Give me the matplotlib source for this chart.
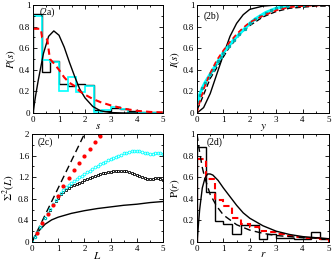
import numpy as np
import matplotlib
matplotlib.use('Agg')
import matplotlib.pyplot as plt
from matplotlib.ticker import MultipleLocator, FormatStrFormatter

plt.rcParams['font.family'] = ['Liberation Serif', 'DejaVu Serif']
plt.rcParams['mathtext.fontset'] = 'stix'

#Bin edges of the histograms (width 1/3)
bin_edges = np.linspace(0, 5, 16)

#Panel (2a) spacing distribution
hist_a_black = [0.92, 0.38, 0.48, 0.27, 0.25, 0.27, 0.26, 0.03, 0.02, 0.05, 0.04, 0.02, 0.01, 0.01, 0.01]
hist_a_cyan = [0.90, 0.49, 0.47, 0.20, 0.33, 0.19, 0.25, 0.01, 0.03, 0.06, 0.04, 0.0, 0.0, 0.0, 0.0]
wig_s = [0, 0.1, 0.2, 0.4, 0.6, 0.8, 1.0, 1.2, 1.4, 1.6, 1.8, 2.0, 2.3, 2.6, 3.0, 3.5, 4.0]
wig_p = [0, 0.16, 0.30, 0.55, 0.71, 0.76, 0.72, 0.61, 0.47, 0.34, 0.22, 0.14, 0.06, 0.02, 0.004, 0.0, 0.0]
red_a_s = [0, 0.3, 0.35, 0.55, 0.65, 0.8, 1.0, 1.2, 1.4, 1.6, 1.8, 2.0, 2.3, 2.6, 3.0, 3.5, 4.0, 4.5, 5.0]
red_a_p = [0.78, 0.78, 0.70, 0.68, 0.50, 0.46, 0.40, 0.33, 0.28, 0.25, 0.20, 0.17, 0.13, 0.10, 0.07, 0.04, 0.02, 0.01, 0.005]

#Panel (2b) cumulative distribution
cum_wig_s = [0, 0.25, 0.5, 0.75, 1.0, 1.25, 1.5, 1.75, 2.0, 2.5, 3.0, 5.0]
cum_wig_i = [0, 0.05, 0.18, 0.36, 0.54, 0.71, 0.83, 0.91, 0.96, 0.99, 1.0, 1.0]
cyan_b_s = [0.05, 0.1, 0.2, 0.3, 0.4, 0.5, 0.6, 0.7, 0.8, 0.9, 1.0, 1.2, 1.4, 1.6, 1.8, 2.0, 2.2, 2.4, 2.6, 2.8, 3.0, 3.2, 3.4, 3.6, 3.8, 4.0]
cyan_b_i = [0.10, 0.17, 0.23, 0.28, 0.32, 0.36, 0.40, 0.44, 0.48, 0.52, 0.56, 0.62, 0.68, 0.73, 0.78, 0.83, 0.87, 0.90, 0.93, 0.95, 0.97, 0.98, 0.99, 1.0, 1.0, 1.0]
dash_b_s = [0, 0.1, 0.3, 0.5, 0.7, 0.9, 1.0, 1.2, 1.4, 1.6, 1.8, 2.0, 2.5, 3.0, 3.5, 4.0, 4.5, 5.0]
dash_b_i = [0.03, 0.08, 0.20, 0.32, 0.40, 0.48, 0.52, 0.60, 0.66, 0.72, 0.77, 0.81, 0.89, 0.94, 0.97, 0.98, 0.99, 0.99]
red_b_s = [0, 0.1, 0.3, 0.5, 0.75, 1.0, 1.25, 1.5, 1.75, 2.0, 2.5, 3.0, 3.5, 4.0, 5.0]
red_b_i = [0, 0.10, 0.25, 0.37, 0.49, 0.58, 0.66, 0.73, 0.79, 0.84, 0.90, 0.95, 0.98, 0.99, 1.0]

#Panel (2c) number variance
L_vals = np.round(np.arange(0, 5.01, 0.1), 2)
sig_cyan = [0.0, 0.09, 0.18, 0.27, 0.36, 0.45, 0.54, 0.62, 0.70, 0.78, 0.85, 0.91, 0.96, 1.01, 1.05, 1.09,
            1.13, 1.17, 1.20, 1.23, 1.26, 1.29, 1.32, 1.35, 1.38, 1.41, 1.44, 1.46, 1.49, 1.51, 1.54, 1.56,
            1.58, 1.60, 1.62, 1.64, 1.65, 1.67, 1.68, 1.69, 1.69, 1.68, 1.67, 1.65, 1.64, 1.63, 1.63, 1.64,
            1.64, 1.64, 1.63]
sig_black = [0.0, 0.09, 0.18, 0.27, 0.36, 0.44, 0.52, 0.60, 0.68, 0.76, 0.82, 0.88, 0.93, 0.97, 1.00, 1.03,
             1.05, 1.08, 1.10, 1.12, 1.14, 1.16, 1.18, 1.20, 1.22, 1.24, 1.26, 1.27, 1.28, 1.29, 1.30, 1.31,
             1.32, 1.32, 1.32, 1.32, 1.31, 1.30, 1.28, 1.26, 1.24, 1.22, 1.20, 1.18, 1.16, 1.16, 1.17, 1.18,
             1.18, 1.17, 1.15]
red_c_L = [0.2, 0.4, 0.6, 0.8, 1.0, 1.2, 1.4, 1.6, 1.8, 2.0, 2.2, 2.4, 2.6]
red_c_sig = [0.17, 0.35, 0.52, 0.68, 0.86, 1.03, 1.18, 1.33, 1.47, 1.60, 1.73, 1.85, 1.96]
poisson_L = [0, 2.0]
poisson_sig = [0, 2.0]
goe_L = [0, 0.1, 0.25, 0.5, 0.75, 1.0, 1.5, 2.0, 2.5, 3.0, 3.5, 4.0, 4.5, 5.0]
goe_sig = [0, 0.1, 0.2, 0.33, 0.41, 0.46, 0.53, 0.58, 0.62, 0.65, 0.68, 0.70, 0.73, 0.75]

#Panel (2d) ratio distribution
hist_d_black = [0.88, 0.46, 0.19, 0.17, 0.07, 0.16, 0.16, 0.03, 0.07, 0.04, 0.04, 0.03, 0.03, 0.09, 0.03]
hist_d_red = [0.77, 0.58, 0.39, 0.33, 0.22, 0.17, 0.14, 0.10, 0.09, 0.07, 0.06, 0.05, 0.04, 0.04, 0.03]
goe_r = [0, 0.05, 0.1, 0.2, 0.3, 0.4, 0.5, 0.6, 0.8, 1.0, 1.25, 1.5, 1.75, 2.0, 2.5, 3.0, 3.5, 4.0, 4.5, 5.0]
goe_pr = [0, 0.15, 0.30, 0.50, 0.59, 0.63, 0.63, 0.62, 0.57, 0.50, 0.42, 0.34, 0.27, 0.22, 0.15, 0.10, 0.07, 0.05, 0.04, 0.03]
poi_r = [0, 0.1, 0.2, 0.3, 0.5, 0.75, 1.0, 1.5, 2.0, 2.5, 3.0, 4.0, 5.0]
poi_pr = [1.0, 0.83, 0.69, 0.59, 0.44, 0.33, 0.25, 0.16, 0.11, 0.08, 0.06, 0.04, 0.03]

fig = plt.figure(figsize=(3.32, 2.62), dpi=100)
ax_a = fig.add_axes([0.0994, 0.5687, 0.3916, 0.4122])
ax_b = fig.add_axes([0.5934, 0.5687, 0.3976, 0.4122])
ax_c = fig.add_axes([0.0964, 0.0763, 0.3946, 0.4122])
ax_d = fig.add_axes([0.5934, 0.0763, 0.3976, 0.4122])


def style(ax, ymax, ymaj, ymin):
    ax.set_xlim(0, 5)
    ax.set_ylim(0, ymax)
    ax.xaxis.set_major_locator(MultipleLocator(1))
    ax.xaxis.set_minor_locator(MultipleLocator(0.5))
    ax.yaxis.set_major_locator(MultipleLocator(ymaj))
    ax.yaxis.set_minor_locator(MultipleLocator(ymin))
    ax.yaxis.set_major_formatter(FormatStrFormatter('%g'))
    ax.tick_params(which='both', direction='in', top=True, right=True, labelsize=6.5, width=0.6, pad=2)
    ax.tick_params(which='major', length=3)
    ax.tick_params(which='minor', length=1.5)
    for sp in ax.spines.values():
        sp.set_linewidth(0.7)


#Panel (2a)
ax_a.stairs(hist_a_black, bin_edges, color='black', lw=1.0)
ax_a.stairs(hist_a_cyan, bin_edges, color='cyan', lw=1.2)
ax_a.plot(wig_s, wig_p, color='black', lw=1.0)
ax_a.plot(red_a_s, red_a_p, color='red', lw=1.5, ls=(0, (3, 2)))
style(ax_a, 1.0, 0.2, 0.1)
ax_a.set_xlabel('$s$', fontsize=8, labelpad=-1)
ax_a.set_ylabel('$P(s)$', fontsize=8, labelpad=1)
ax_a.text(0.05, 0.93, '(2a)', transform=ax_a.transAxes, fontsize=7, va='center')

#Panel (2b)
ax_b.plot(cum_wig_s, cum_wig_i, color='black', lw=1.0)
ax_b.plot(dash_b_s, dash_b_i, color='black', lw=1.0, ls=(0, (4, 2)))
ax_b.plot(cyan_b_s, cyan_b_i, color='cyan', lw=2.2, marker='s', ms=1.3, mec='#00aaaa')
ax_b.plot(red_b_s, red_b_i, color='red', lw=1.2, ls=(0, (3, 2)))
style(ax_b, 1.0, 0.2, 0.1)
ax_b.set_xlabel('$y$', fontsize=8, labelpad=-1)
ax_b.set_ylabel('$I(s)$', fontsize=8, labelpad=1)
ax_b.text(0.05, 0.9, '(2b)', transform=ax_b.transAxes, fontsize=7, va='center')

#Panel (2c)
ax_c.plot(poisson_L, poisson_sig, color='black', lw=1.0, ls=(0, (5, 3)))
ax_c.plot(goe_L, goe_sig, color='black', lw=1.0)
ax_c.plot(L_vals, sig_black, ls='none', marker='s', ms=2.0, mfc='none', mec='black', mew=0.6)
ax_c.plot(L_vals, sig_cyan, ls='none', marker='o', ms=2.0, mfc='none', mec='cyan', mew=0.6)
ax_c.plot(red_c_L, red_c_sig, ls='none', marker='o', ms=2.0, color='red')
style(ax_c, 2.0, 0.4, 0.2)
ax_c.set_xlabel('$L$', fontsize=8, labelpad=-2)
ax_c.set_ylabel(r'$\Sigma^2(L)$', fontsize=8, labelpad=1)
ax_c.text(0.04, 0.92, '(2c)', transform=ax_c.transAxes, fontsize=7, va='center')

#Panel (2d)
ax_d.stairs(hist_d_black, bin_edges, color='black', lw=1.0)
ax_d.stairs(hist_d_red, bin_edges, color='red', lw=1.5, ls=(0, (3, 2)))
ax_d.plot(goe_r, goe_pr, color='black', lw=1.0)
ax_d.plot(poi_r, poi_pr, color='black', lw=1.0, ls=(0, (5, 3)))
style(ax_d, 1.0, 0.2, 0.1)
ax_d.set_xlabel('$r$', fontsize=8, labelpad=-2)
ax_d.set_ylabel(r'$\mathrm{P}(r)$', fontsize=8, labelpad=1)
ax_d.text(0.07, 0.92, '(2d)', transform=ax_d.transAxes, fontsize=7, va='center')

plt.savefig('out.png', dpi=100)
